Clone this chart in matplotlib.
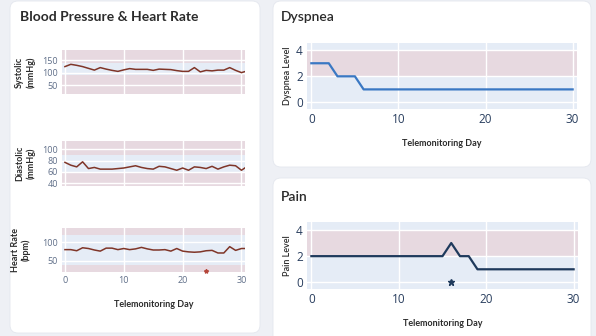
import matplotlib.pyplot as plt
from matplotlib.patches import FancyBboxPatch

# ---- data ----
days = list(range(0, 32))
systolic = [124, 133, 129, 124, 117, 110, 120, 114, 109, 105, 111, 116, 113, 113, 113, 109,
            114, 113, 112, 108, 105, 105, 120, 103, 109, 107, 110, 110, 120, 109, 100, 107]
diastolic = [77, 72, 69, 78, 66, 68, 65, 65, 65, 66, 67, 69, 71, 68, 66, 65,
             70, 69, 66, 63, 67, 63, 69, 68, 66, 70, 65, 69, 72, 71, 63, 70]
heart_rate = [80, 80, 77, 85, 83, 79, 76, 84, 84, 80, 83, 80, 82, 86, 82, 79,
              79, 80, 76, 83, 76, 74, 73, 74, 77, 78, 71, 71, 88, 78, 83, 83]
hr_event_day = [24]
hr_event_val = [23]

dyspnea = [3, 3, 3, 2, 2, 2] + [1] * 25
pain = [2] * 16 + [3, 2, 2] + [1] * 12
pain_event_day = [16]
pain_event_val = [0]

W, H = 596, 336
BG = '#eef0f5'
PLOT_BG = '#e5ecf6'
RED_BAND = '#e7d9e0'
TICK_DARK = '#2a3f5f'
TICK_GRAY = '#5f6e88'
LINE_BP = '#7f3528'

fig = plt.figure(figsize=(W / 100, H / 100), dpi=100)
fig.patch.set_facecolor(BG)

bg = fig.add_axes([0, 0, 1, 1])
bg.set_xlim(0, W)
bg.set_ylim(H, 0)
bg.axis('off')

for x0, y0, x1, y1 in [(10, 1, 260, 333), (273, 1, 591, 167), (273, 178, 591, 350)]:
    bg.add_patch(FancyBboxPatch((x0, y0), x1 - x0, y1 - y0,
                                boxstyle='round,pad=0,rounding_size=8',
                                fc='white', ec='#e4e7ee', lw=0.6))

bg.text(20, 17, 'Blood Pressure & Heart Rate', fontsize=10, fontweight='bold',
        family='Lato', color='#2b2b2b', va='center')
bg.text(281, 17, 'Dyspnea', fontsize=10, family='Lato', color='#2b2b2b',
        va='center', fontweight='semibold')
bg.text(281, 197, 'Pain', fontsize=10, family='Lato', color='#2b2b2b',
        va='center', fontweight='semibold')


def box(x0, y0, x1, y1):
    return [x0 / W, 1 - y1 / H, (x1 - x0) / W, (y1 - y0) / H]


def style(ax, ylim, yticks, tick_size, tick_color, show_x=True):
    ax.set_facecolor(PLOT_BG)
    ax.set_xlim(-0.5, 30.6)
    ax.set_ylim(*ylim)
    ax.set_xticks([0, 10, 20, 30])
    ax.set_yticks(yticks)
    ax.set_axisbelow(True)
    ax.grid(True, color='white', lw=1)
    for s in ax.spines.values():
        s.set_visible(False)
    ax.tick_params(length=0, labelsize=tick_size, colors=tick_color, pad=3)
    for lab in ax.get_xticklabels() + ax.get_yticklabels():
        lab.set_family('Open Sans')
    if not show_x:
        ax.tick_params(labelbottom=False)


LBL = dict(fontsize=6.5, family='Lato', fontweight='bold', color='#2b2b2b')

# ---- blood pressure & heart rate ----
ax1 = fig.add_axes(box(62, 50, 245, 94))
style(ax1, (15, 190), [50, 100, 150], 6.5, TICK_GRAY, show_x=False)
ax1.axhspan(140, 190, color=RED_BAND, zorder=0.2, lw=0)
ax1.axhspan(15, 90, color=RED_BAND, zorder=0.2, lw=0)
ax1.plot(days, systolic, color=LINE_BP, lw=1.1)
ax1.set_ylabel('Systolic\n(mmHg)', labelpad=5, **LBL)

ax2 = fig.add_axes(box(62, 141, 245, 186))
style(ax2, (35, 115), [40, 60, 80, 100], 6.5, TICK_GRAY, show_x=False)
ax2.axhspan(90, 115, color=RED_BAND, zorder=0.2, lw=0)
ax2.axhspan(35, 60, color=RED_BAND, zorder=0.2, lw=0)
ax2.plot(days, diastolic, color=LINE_BP, lw=1.1)
ax2.set_ylabel('Diastolic\n(mmHg)', labelpad=5, **LBL)

ax3 = fig.add_axes(box(62, 228, 245, 272))
style(ax3, (20, 138), [50, 100], 6.5, TICK_GRAY)
ax3.axhspan(120, 138, color=RED_BAND, zorder=0.2, lw=0)
ax3.axhspan(20, 40, color=RED_BAND, zorder=0.2, lw=0)
ax3.plot(days, heart_rate, color=LINE_BP, lw=1.1)
ax3.plot(hr_event_day, hr_event_val, marker='*', color='#b5463a', ms=3, ls='none',
         clip_on=False)
ax3.set_ylabel('Heart Rate\n(bpm)', labelpad=8, **LBL)
ax3.set_xlabel('Telemonitoring Day', labelpad=11, **LBL)

# ---- dyspnea ----
ax4 = fig.add_axes(box(307, 43, 577, 109))
style(ax4, (-0.5, 4.55), [0, 2, 4], 8.5, TICK_DARK)
ax4.set_xlim(-0.5, 30.5)
ax4.axhspan(2, 4, color=RED_BAND, zorder=0.2, lw=0)
ax4.plot(days[:31], dyspnea, color='#3a78c3', lw=1.6)
ax4.set_ylabel('Dyspnea Level', fontsize=6.5, family='Lato', color='#2b2b2b',
               fontweight='semibold', labelpad=3)
ax4.set_xlabel('Telemonitoring Day', labelpad=9, **LBL)

# ---- pain ----
ax5 = fig.add_axes(box(307, 222, 578, 289))
style(ax5, (-0.5, 4.6), [0, 2, 4], 8.5, TICK_DARK)
ax5.set_xlim(-0.5, 30.5)
ax5.axhspan(2, 4, color=RED_BAND, zorder=0.2, lw=0)
ax5.plot(days[:31], pain, color='#1f3a5c', lw=1.6)
ax5.plot(pain_event_day, pain_event_val, marker='*', color='#1f3a5c', ms=5, ls='none')
ax5.set_ylabel('Pain Level', fontsize=6.5, family='Lato', color='#2b2b2b',
               fontweight='semibold', labelpad=3)
ax5.set_xlabel('Telemonitoring Day', labelpad=9, **LBL)

fig.savefig('out.png', dpi=100, facecolor=BG)
